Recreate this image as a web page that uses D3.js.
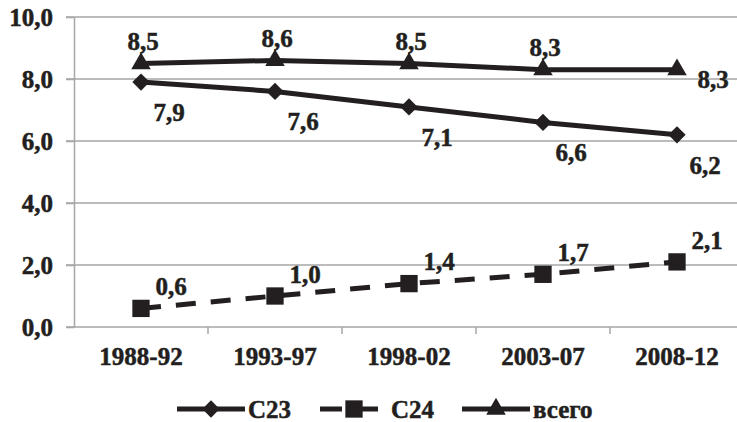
<!DOCTYPE html>
<html>
<head>
<meta charset="utf-8">
<script src="https://cdn.jsdelivr.net/npm/d3@7/dist/d3.min.js"></script>
<style>
  body { margin: 0; background: #fff; }
  svg { display: block; }
  text { font-family: "Liberation Serif", "Times New Roman", serif; font-weight: bold; font-size: 25px; fill: #231f20; stroke: #231f20; stroke-width: 0.5px; }
  .grid line { stroke: #a6a6a6; stroke-width: 1.5; }
  .axis path, .axis line { stroke: #a6a6a6; stroke-width: 1.5; }
</style>
</head>
<body>
<svg width="737" height="422"></svg>
<script>
var periods = ["1988-92", "1993-97", "1998-02", "2003-07", "2008-12"];
var c23 = [7.9, 7.6, 7.1, 6.6, 6.2];
var c24 = [0.6, 1.0, 1.4, 1.7, 2.1];
var total = [8.5, 8.6, 8.5, 8.3, 8.3];
var yTicks = [0, 2, 4, 6, 8, 10];

var svg = d3.select("svg"),
    ink = "#231f20";

var x = d3.scaleBand().domain(periods).range([74, 744]).padding(0);
var y = d3.scaleLinear().domain([0, 10]).range([327, 17]);
var fmt = function(v) { return d3.format(".1f")(v).replace(".", ","); };
var cx = function(i) { return x(periods[i]) + x.bandwidth() / 2; };

// gridlines
svg.append("g").attr("class", "grid")
    .selectAll("line")
    .data(yTicks.filter(function(d) { return d > 0; }))
    .enter().append("line")
    .attr("x1", 66).attr("x2", 744)
    .attr("y1", function(d) { return y(d); })
    .attr("y2", function(d) { return y(d); });

// y axis
var yAxis = svg.append("g").attr("class", "axis")
    .attr("transform", "translate(74,0)")
    .call(d3.axisLeft(y).tickValues(yTicks).tickSize(8).tickSizeOuter(0).tickFormat(fmt));
yAxis.attr("font-family", null).attr("font-size", null);
yAxis.selectAll("text").attr("x", -21).attr("fill", null);

// x axis
var xAxis = svg.append("g").attr("class", "axis")
    .attr("transform", "translate(0," + y(0) + ")")
    .call(d3.axisBottom(x).tickSize(0).tickSizeOuter(0));
xAxis.attr("font-family", null).attr("font-size", null);
xAxis.select(".domain").attr("d", "M66,0H744");
xAxis.selectAll("text").attr("y", 38).attr("dy", 0).attr("fill", null);
// tick marks between categories
xAxis.selectAll(".sep")
    .data(periods.slice(1))
    .enter().append("line")
    .attr("class", "sep")
    .attr("x1", function(d) { return x(d); })
    .attr("x2", function(d) { return x(d); })
    .attr("y1", 0).attr("y2", 7);

var line = d3.line()
    .x(function(d, i) { return cx(i); })
    .y(function(d) { return y(d); });

var diamond = {
  draw: function(ctx, size) {
    var r = Math.sqrt(size / 2);
    ctx.moveTo(0, -r); ctx.lineTo(r, 0); ctx.lineTo(0, r); ctx.lineTo(-r, 0); ctx.closePath();
  }
};

var series = [
  { name: "C23", values: c23, dash: null, marker: diamond, size: 150, ldx: 28, ldy: 30 },
  { name: "C24", values: c24, dash: "20,15", marker: d3.symbolSquare, size: 300, ldx: 30, ldy: -22 },
  { name: "всего", values: total, dash: null, marker: d3.symbolTriangle, size: 165, ldx: 2, ldy: -22 }
];

series.forEach(function(s) {
  svg.append("path")
    .datum(s.values)
    .attr("d", line)
    .attr("fill", "none")
    .attr("stroke", ink)
    .attr("stroke-width", 5)
    .attr("stroke-dasharray", s.dash);

  svg.append("g").selectAll("path")
    .data(s.values)
    .enter().append("path")
    .attr("transform", function(d, i) { return "translate(" + cx(i) + "," + y(d) + ")"; })
    .attr("d", d3.symbol().type(s.marker).size(s.size))
    .attr("fill", ink);

  svg.append("g").selectAll("text")
    .data(s.values)
    .enter().append("text")
    .attr("x", function(d, i) {
      if (s.name === "всего" && i === s.values.length - 1) return cx(i) + 36;
      return cx(i) + s.ldx;
    })
    .attr("y", function(d, i) {
      if (s.name === "всего" && i === s.values.length - 1) return y(d) + 10;
      return y(d) + s.ldy;
    })
    .attr("dy", "0.35em")
    .attr("text-anchor", "middle")
    .text(fmt);
});

// legend
var legendX = [177, 320, 462];
var legend = svg.append("g").selectAll("g")
    .data(series)
    .enter().append("g")
    .attr("transform", function(d, i) { return "translate(" + legendX[i] + ",409)"; });
legend.append("line")
    .attr("x1", 0).attr("x2", 68)
    .attr("stroke", ink)
    .attr("stroke-width", 5)
    .attr("stroke-dasharray", function(d) { return d.dash ? "22,14" : null; });
legend.append("path")
    .attr("transform", "translate(34,0)")
    .attr("d", function(d) { return d3.symbol().type(d.marker).size(d.size)(); })
    .attr("fill", ink);
legend.append("text")
    .attr("x", 71)
    .attr("dy", "0.35em")
    .text(function(d) { return d.name; });
</script>
</body>
</html>
